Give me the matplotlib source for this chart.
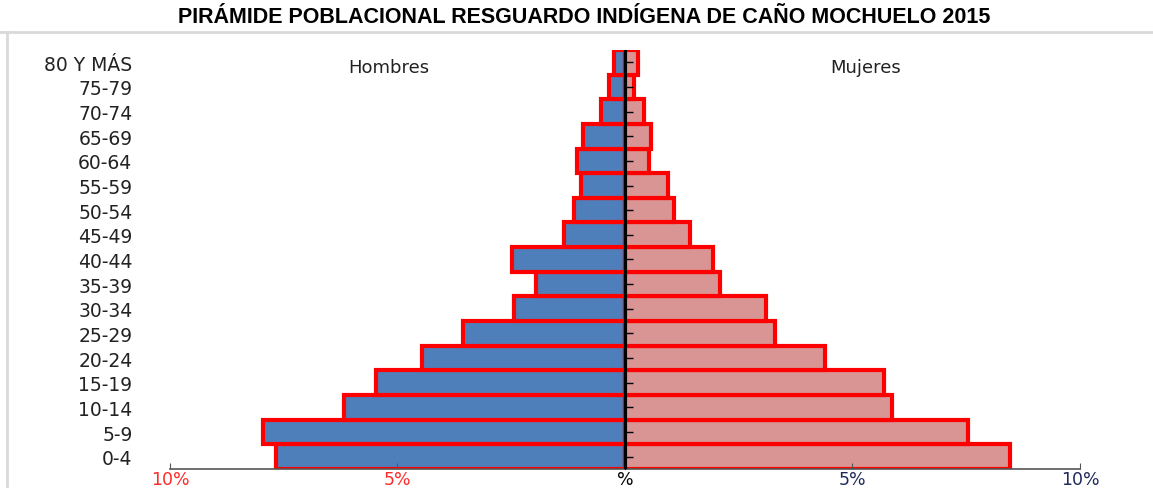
import numpy as np
import matplotlib
matplotlib.use('Agg')
import matplotlib.pyplot as plt
from matplotlib.lines import Line2D

# grupos de edad, de abajo hacia arriba
grupos = ['0-4', '5-9', '10-14', '15-19', '20-24', '25-29', '30-34', '35-39',
          '40-44', '45-49', '50-54', '55-59', '60-64', '65-69', '70-74', '75-79',
          '80 Y MÁS']
# porcentaje de poblacion
hombres = [7.68, 7.95, 6.18, 5.47, 4.46, 3.55, 2.45, 1.96,
           2.48, 1.33, 1.12, 0.96, 1.05, 0.92, 0.52, 0.36, 0.24]
mujeres = [8.46, 7.53, 5.86, 5.70, 4.39, 3.30, 3.09, 2.08,
           1.94, 1.43, 1.08, 0.94, 0.53, 0.58, 0.42, 0.20, 0.29]
xticks = [-10, -5, 0, 5, 10]
xlabels = ['10%', '5%', '%', '5%', '10%']
xcolors = ['#ff2a2a', '#ff2a2a', 'black', '#1f2a5a', '#1f2a5a']


def main():
    fig = plt.figure(figsize=(11.53, 4.89), dpi=100)
    ax = fig.add_axes([0.1474, 0.0389, 0.7893, 0.8569])

    y = np.arange(len(grupos))
    ax.barh(y, -np.array(hombres), height=1.0, color='#4f7fba',
            edgecolor='#ff0000', linewidth=3)
    ax.barh(y, mujeres, height=1.0, color='#d99594',
            edgecolor='#ff0000', linewidth=3)

    ax.set_xlim(-10, 10)
    ax.set_ylim(-0.5, len(grupos) - 0.5)

    # linea central con marcas
    ax.axvline(0, color='black', lw=2.2, zorder=3)
    sec = ax.secondary_yaxis(0.5)
    sec.set_zorder(4)
    sec.set_yticks(y)
    sec.set_yticklabels([])
    sec.tick_params(direction='out', length=6, width=1, color='black')
    for s in sec.spines.values():
        s.set_color('black')

    ax.set_yticks(y)
    ax.set_yticklabels(grupos, fontsize=13.5, family='DejaVu Sans', color='#222222')
    ax.tick_params(axis='y', length=0, pad=27)

    ax.set_xticks(xticks)
    ax.set_xticklabels(xlabels, fontsize=12.5, family='DejaVu Sans')
    for lab, c in zip(ax.get_xticklabels(), xcolors):
        lab.set_color(c)
    ax.tick_params(axis='x', direction='in', length=4, color='#555555', pad=1)

    for s in ['top', 'right', 'left']:
        ax.spines[s].set_visible(False)
    ax.spines['bottom'].set_color('#555555')
    ax.spines['bottom'].set_linewidth(1.2)

    ax.text(0.241, 0.96, 'Hombres', transform=ax.transAxes, ha='center',
            va='center', fontsize=13, family='DejaVu Sans', color='#222222')
    ax.text(0.764, 0.96, 'Mujeres', transform=ax.transAxes, ha='center',
            va='center', fontsize=13, family='DejaVu Sans', color='#222222')

    fig.text(0.5065, 0.964, 'PIRÁMIDE POBLACIONAL RESGUARDO INDÍGENA DE CAÑO MOCHUELO 2015',
             ha='center', va='center', fontsize=15.5, fontweight='bold',
             family='Liberation Sans')

    # marco gris
    fig.add_artist(Line2D([0, 1], [0.9325, 0.9325], color='#d9d9d9', lw=2,
                          transform=fig.transFigure))
    fig.add_artist(Line2D([0.006, 0.006], [0, 0.9325], color='#d9d9d9', lw=2,
                          transform=fig.transFigure))

    fig.savefig('out.png', dpi=100)


if __name__ == "__main__":
    main()
